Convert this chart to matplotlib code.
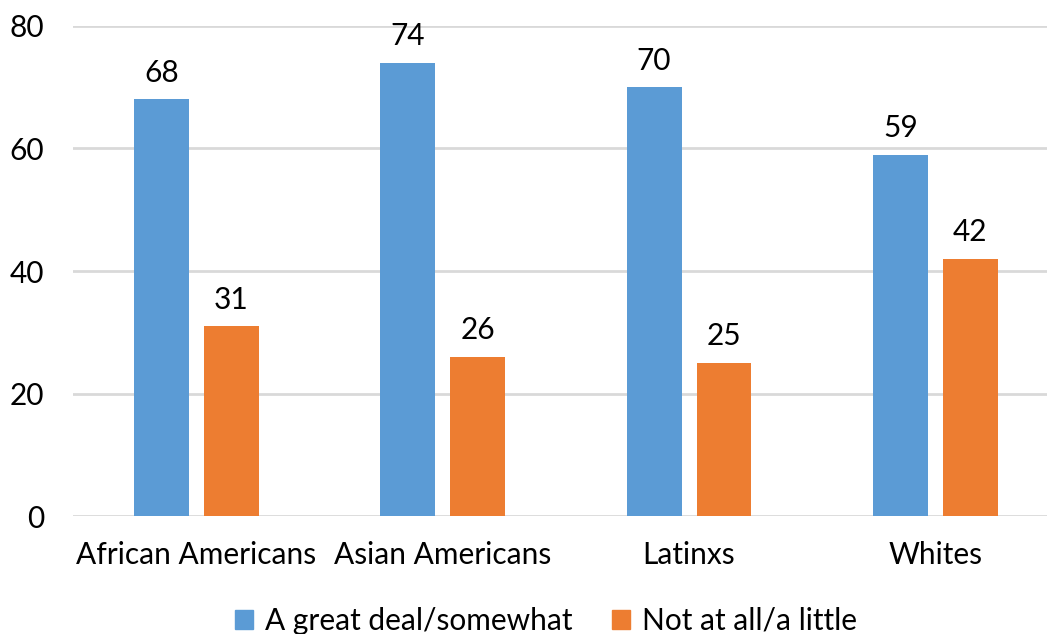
import matplotlib
matplotlib.use("Agg")
import matplotlib.pyplot as plt
import numpy as np
from matplotlib.patches import Patch

plt.rcParams['font.family'] = ['Lato', 'DejaVu Sans']

categories = ["African Americans", "Asian Americans", "Latinxs", "Whites"]
great_deal = [68, 74, 70, 59]
not_at_all = [31, 26, 25, 42]
series_names = ["A great deal/somewhat", "Not at all/a little"]
yticks = [0, 20, 40, 60, 80]

BLUE = "#5b9bd5"
ORANGE = "#ed7d31"
GRID = "#d9d9d9"
FS = 21.5

fig = plt.figure(figsize=(10.47, 6.34), dpi=100)
ax = fig.add_axes([0.070, 0.1861, 0.941, 0.7729])

x = np.arange(len(categories))
w = 0.223
off = 0.142
b1 = ax.bar(x - off, great_deal, w, color=BLUE, zorder=3)
b2 = ax.bar(x + off, not_at_all, w, color=ORANGE, zorder=3)

for bars, vals in ((b1, great_deal), (b2, not_at_all)):
    for rect, v in zip(bars, vals):
        ax.annotate(f"{v}", (rect.get_x() + rect.get_width() / 2, v),
                    xytext=(0, 9), textcoords="offset points",
                    ha="center", va="bottom", fontsize=FS, color="#000000")

ax.set_xlim(-0.5, len(categories) - 0.5)
ax.set_ylim(0, 80)
ax.set_yticks(yticks)
ax.set_yticklabels([str(t) for t in yticks], fontsize=FS)
ax.set_xticks(x)
ax.set_xticklabels(categories, fontsize=FS)
ax.tick_params(axis="both", length=0)
ax.tick_params(axis="y", pad=21)
ax.tick_params(axis="x", pad=18)
ax.grid(axis="y", color=GRID, linewidth=2, zorder=0)
ax.set_axisbelow(True)
for s in ax.spines.values():
    s.set_visible(False)

handles = [Patch(color=BLUE, label=series_names[0]),
           Patch(color=ORANGE, label=series_names[1])]
fig.legend(handles=handles, loc="center", bbox_to_anchor=(0.5215, 0.021),
           ncol=2, frameon=False, fontsize=FS, handlelength=0.6,
           handleheight=0.6, handletextpad=0.4, columnspacing=1.3)

fig.savefig("out.png", dpi=100)
